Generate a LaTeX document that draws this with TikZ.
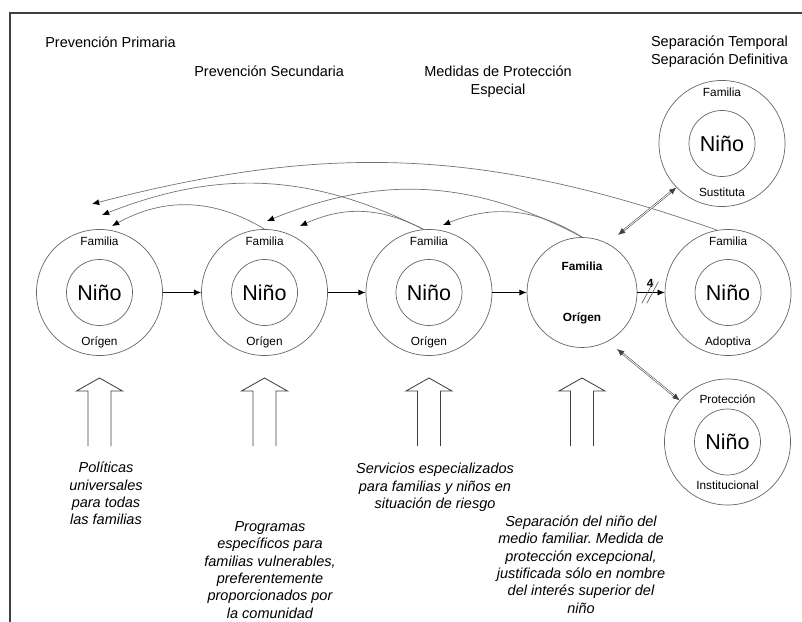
\documentclass[tikz,border=0pt]{standalone}
\usepackage{fontspec}
\setmainfont{Liberation Sans}
\frenchspacing
\usetikzlibrary{arrows.meta,positioning,calc}
\tikzset{%
  >={Latex[width=1.5mm,length=1.8mm]},
  % Specifications for style of nodes:
       ring/.style = {circle, draw=black!60, line width=0.5pt,
                      minimum size=3.15cm, inner sep=0pt},
       core/.style = {circle, draw=black!60, line width=0.5pt,
                      minimum size=1.65cm, inner sep=0pt,
                      font=\fontsize{15.3}{16}\selectfont},
        tag/.style = {inner sep=0pt, font=\fontsize{8.4}{9}\selectfont},
    boldtag/.style = {inner sep=0pt, font=\fontsize{8.4}{9}\selectfont\bfseries},
       head/.style = {inner sep=0pt, align=center,
                      font=\fontsize{10.3}{12.8}\selectfont},
       note/.style = {inner sep=0pt, align=center,
                      font=\fontsize{10.3}{12.3}\selectfont\itshape},
  % Specifications for style of lines:
       flow/.style = {->, line width=0.6pt},
       back/.style = {-{Latex[width=1.5mm,length=1.8mm,black]},
                      draw=black!55, line width=0.5pt},
      swap2/.style = {<->, draw=black!75, line width=0.4pt,
                      double=white, double distance=0.6pt},
     hollow/.style = {line width=0.6pt, draw=black!75},
}

\begin{document}
\begin{tikzpicture}[x=0.025cm, y=-0.025cm, node distance=4.125cm]
\useasboundingbox (0,0) rectangle (802,622);

% frame
\draw[black!75, line width=1.2pt] (10,640) -- (10,13) -- (820,13);

% headings
\node (PP) [head, anchor=west] at (45,42)    {Prevención Primaria};
\node (PS) [head, anchor=west] at (194,71.5) {Prevención Secundaria};
\node (MP) [head] at (498,82)    {Medidas de Protección\\Especial};
\node (SP) [head] at (719.5,51.5) {Separación Temporal\\Separación Definitiva};

% circles
\node (C1) [ring] at (99.5,292.5) {};
\node (C2) [ring, right of=C1] {};
\node (C3) [ring, right of=C2, node distance=4.11cm] {};
\node (C4) [ring, minimum size=2.75cm, right of=C3, node distance=3.825cm] {};
\node (C5) [ring, right of=C4, node distance=3.65cm] {};
\node (C6) [ring] at (722,143.5) {};
\node (C7) [ring] at (727.5,442) {};

\foreach \c in {C1,C2,C3,C5,C6,C7}
  \node (N\c) [core] at (\c) {Niño};

\foreach \c in {C1,C2,C3} {
  \node (F\c) [tag, above of=\c, node distance=1.27cm] {Familia};
  \node (O\c) [tag, below of=\c, node distance=1.25cm] {Orígen};
}
\node (FC4) [boldtag, above of=C4, node distance=0.66cm] {Familia};
\node (OC4) [boldtag, below of=C4, node distance=0.64cm] {Orígen};
\node (FC5) [tag, above of=C5, node distance=1.28cm] {Familia};
\node (AC5) [tag, below of=C5, node distance=1.25cm] {Adoptiva};
\node (FC6) [tag, above of=C6, node distance=1.28cm] {Familia};
\node (SC6) [tag, below of=C6, node distance=1.23cm] {Sustituta};
\node (PC7) [tag, above of=C7, node distance=1.07cm] {Protección};
\node (IC7) [tag, below of=C7, node distance=1.09cm] {Institucional};

% arrows along the row
\draw[flow] (C1) -- (C2);
\draw[flow] (C2) -- (C3);
\draw[flow] (C3) -- (C4);
\draw[flow] (C4) -- coordinate[midway] (M) (C5);
\node (four) [boldtag, anchor=south] at ($(M)+(-1,-5)$) {4};
\draw[black!70, line width=0.4pt] ($(M)+(-9.3,11)$) -- ++(11.6,-21.7);
\draw[black!70, line width=0.4pt] ($(M)+(-4.3,11)$) -- ++(11.6,-21.7);

% arrows going back
\coordinate (E1) at (92,204);
\coordinate (E2) at (102,215);
\coordinate (E3) at (112,226);
\coordinate (E4) at (267,221);
\coordinate (E5) at (300,226);
\coordinate (E6) at (443,225);
\draw[back] (C5.100)   to[bend right=17] (E1);
\draw[back] (C3.95)    to[bend right=24] (E2);
\draw[back] (C2.north) to[bend right=30] (E3);
\draw[back] (C4.north) to[bend right=25] (E4);
\draw[back] (C3.95)    to[bend right=26] (E5);
\draw[back] (C4.north) to[bend right=27] (E6);

% separation
\coordinate (U) at (618,235);
\coordinate (L) at (617,349);
\draw[swap2] (U) -- (C6.224);
\draw[swap2] (L) -- (C7.139);

% hollow arrows
\foreach \x in {99.5,264.5,429,582}
  \draw[hollow] ({\x-11.5},446) -- ({\x-11.5},391) -- ({\x-23},391)
    -- (\x,378) -- ({\x+23},391) -- ({\x+11.5},391) -- ({\x+11.5},446);

% texts below
\node (T1) [note] at (106,493.5) {Políticas\\universales\\para todas\\las familias};
\node (T2) [note] at (270,570) {Programas\\específicos para\\familias vulnerables,\\preferentemente\\proporcionados por\\la comunidad};
\node (T3) [note] at (435,487.5) {Servicios especializados\\para familias y niños en\\situación de riesgo};
\node (T4) [note] at (581,564.5) {Separación del niño del\\medio familiar. Medida de\\protección excepcional,\\justificada sólo en nombre\\del interés superior del\\niño};
\end{tikzpicture}
\end{document}
